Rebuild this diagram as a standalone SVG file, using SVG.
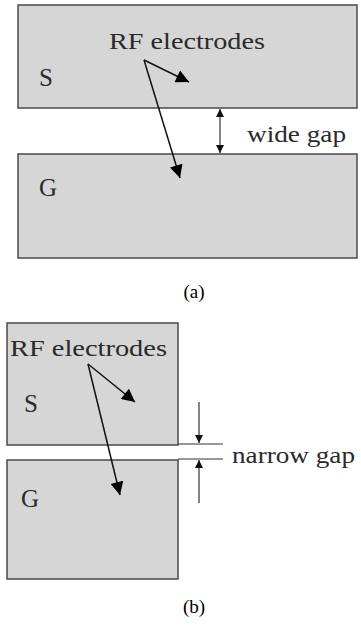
<svg xmlns="http://www.w3.org/2000/svg" width="361" height="630" viewBox="0 0 361 630">
<style>
.plate{fill:#d6d6d6;stroke:#4a4a4a;stroke-width:1.5}
.lbl{font-family:"Liberation Serif","Times New Roman",serif;fill:#2a2a2a}
.cap{font-family:"Liberation Serif","Times New Roman",serif;fill:#000;font-size:19px;text-anchor:middle}
.ln{stroke:#111;stroke-width:1.5;fill:none}
.gl{stroke:#333;stroke-width:1.2;fill:none}
</style>
<defs>
<marker id="big" viewBox="0 0 10 10" refX="10" refY="5" markerUnits="userSpaceOnUse" markerWidth="15" markerHeight="13" orient="auto"><path d="M0,0 L10,5 L0,10 Z" fill="#000"/></marker>
<marker id="sm" viewBox="0 0 10 10" refX="10" refY="5" markerUnits="userSpaceOnUse" markerWidth="9" markerHeight="8" orient="auto-start-reverse"><path d="M0,0 L10,5 L0,10 Z" fill="#111"/></marker>
</defs>
<rect width="361" height="630" fill="#fff"/>
<g id="a-S"><rect class="plate" x="18" y="5" width="339" height="103"/><text class="lbl" x="39" y="86" font-size="25">S</text></g>
<g id="a-G"><rect class="plate" x="18" y="154" width="339" height="104"/><text class="lbl" x="39" y="196" font-size="25">G</text></g>
<g id="a-label"><text class="lbl" x="109" y="49" font-size="24" textLength="156" lengthAdjust="spacingAndGlyphs">RF electrodes</text></g>
<g id="a-gaplabel"><text class="lbl" x="247" y="142" font-size="23" textLength="99" lengthAdjust="spacingAndGlyphs">wide gap</text></g>
<text class="cap" x="194" y="298">(a)</text>
<g id="b-S"><rect class="plate" x="7" y="323" width="171" height="122"/><text class="lbl" x="24" y="412" font-size="25">S</text></g>
<g id="b-G"><rect class="plate" x="7" y="460" width="171" height="119"/><text class="lbl" x="21" y="507" font-size="25">G</text></g>
<g id="b-label"><text class="lbl" x="10" y="356" font-size="24" textLength="157" lengthAdjust="spacingAndGlyphs">RF electrodes</text></g>
<g id="b-gaplabel"><text class="lbl" x="232" y="463" font-size="23" textLength="123" lengthAdjust="spacingAndGlyphs">narrow gap</text></g>
<text class="cap" x="194" y="613">(b)</text>
<g id="connectors">
<line class="ln" x1="144" y1="60" x2="189" y2="82" marker-end="url(#big)"/>
<line class="ln" x1="144" y1="60" x2="180" y2="178" marker-end="url(#big)"/>
<line class="gl" x1="220" y1="109" x2="220" y2="153" marker-start="url(#sm)" marker-end="url(#sm)"/>
<line class="ln" x1="88" y1="364" x2="135" y2="402" marker-end="url(#big)"/>
<line class="ln" x1="88" y1="364" x2="120" y2="495" marker-end="url(#big)"/>
<line class="gl" x1="178" y1="444" x2="223" y2="444"/>
<line class="gl" x1="178" y1="459" x2="223" y2="459"/>
<line class="gl" x1="199" y1="402" x2="199" y2="443" marker-end="url(#sm)"/>
<line class="gl" x1="199" y1="503" x2="199" y2="460" marker-end="url(#sm)"/>
</g>
</svg>
